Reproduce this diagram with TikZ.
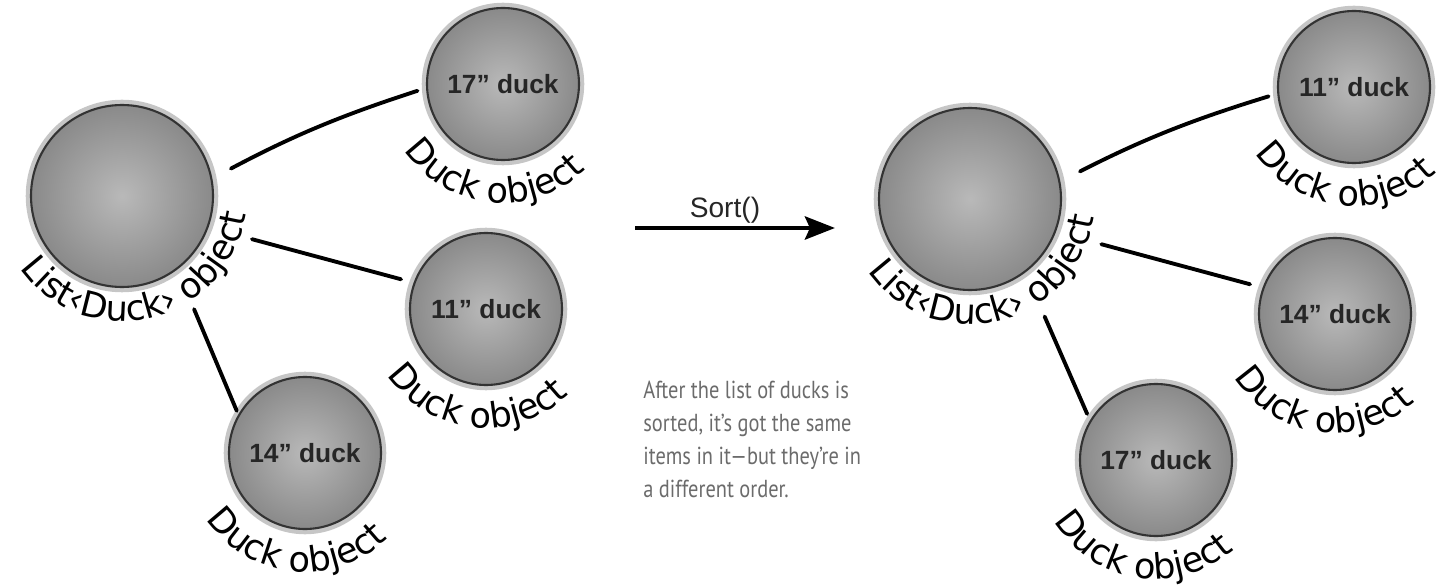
\documentclass[tikz,border=0pt]{standalone}
\usepackage{fontspec}
\usetikzlibrary{arrows.meta,decorations.text}

\newfontfamily\handfont{DejaVu Sans}
\newfontfamily\ballfont{Liberation Sans}
\newfontfamily\notefont[FakeStretch=0.83]{PT Sans}

\tikzset{
  ball/.style={circle, inner sep=0pt, draw=black!80, line width=1.2pt,
    inner color=gray!55, outer color=gray!92,
    preaction={draw=gray!45, line width=6pt},
    font=\ballfont\bfseries\fontsize{15}{18}\selectfont, text=black!85},
  listball/.style={ball, minimum size=3.64cm},
  duckball/.style={ball, minimum size=3.04cm},
  link/.style={line width=2.2pt, line cap=round},
  arclabel/.style={decorate, decoration={text along path, text align=center,
    text={|\handfont\fontsize{20}{24}\selectfont|#1}}},
}

\begin{document}
\begin{tikzpicture}
    \useasboundingbox (0,0) rectangle (28.86,11.74);

    % Unsorted list
    \node[listball] (listL) at (2.44,7.82) {};
    \node[duckball] (d17L) at (10.06,10.06) {17” duck};
    \node[duckball] (d11L) at (9.72,5.56) {11” duck};
    \node[duckball] (d14L) at (6.10,2.68) {14” duck};
    \draw[link, shorten <=0.42cm, shorten >=0.18cm] (listL.11) to[bend left=5] (d17L.183);
    \draw[link, shorten <=0.9cm, shorten >=0.26cm] (listL.-20) -- (d11L.160);
    \draw[link, shorten <=0.86cm, shorten >=0.08cm] (listL.-53) -- (d14L.150);

    % Labels bent round the balls
    \path[arclabel={List‹Duck› object}] ([shift={(200:2.5)}]listL.center) arc[start angle=200, end angle=367, radius=2.5];
    \path[arclabel={Duck object}] ([shift={(200:2.38)}]d17L.center) arc[start angle=200, end angle=328, radius=2.38];
    \path[arclabel={Duck object}] ([shift={(200:2.38)}]d11L.center) arc[start angle=200, end angle=328, radius=2.38];
    \path[arclabel={Duck object}] ([shift={(200:2.38)}]d14L.center) arc[start angle=200, end angle=328, radius=2.38];

    % Sort() call
    \coordinate (sortfrom) at (12.70,7.18);
    \coordinate (sortto) at (16.70,7.18);
    \draw[line width=2.8pt, -{Stealth[length=6mm, width=4.6mm, inset=1mm]}] (sortfrom) -- (sortto)
        node[pos=0.45, above, inner sep=1pt, font=\ballfont\fontsize{16}{19}\selectfont, text=black!85] (sortlbl) {Sort()};

    % Sorted list
    \node[listball] (listR) at (19.40,7.76) {};
    \node[duckball] (d11R) at (27.08,10.00) {11” duck};
    \node[duckball] (d14R) at (26.70,5.46) {14” duck};
    \node[duckball] (d17R) at (23.12,2.54) {17” duck};
    \draw[link, shorten <=0.44cm, shorten >=0.18cm] (listR.11) to[bend left=5] (d11R.185);
    \draw[link, shorten <=0.94cm, shorten >=0.26cm] (listR.-21) -- (d14R.160);
    \draw[link, shorten <=0.96cm, shorten >=0.14cm] (listR.-53) -- (d17R.149);

    \path[arclabel={List‹Duck› object}] ([shift={(200:2.5)}]listR.center) arc[start angle=200, end angle=367, radius=2.5];
    \path[arclabel={Duck object}] ([shift={(200:2.38)}]d11R.center) arc[start angle=200, end angle=328, radius=2.38];
    \path[arclabel={Duck object}] ([shift={(198:2.38)}]d14R.center) arc[start angle=198, end angle=326, radius=2.38];
    \path[arclabel={Duck object}] ([shift={(197:2.38)}]d17R.center) arc[start angle=197, end angle=325, radius=2.38];

    % Handwritten note
    \node[anchor=north west, align=left, inner sep=0pt, text=black!58,
        font=\notefont\fontsize{14}{18.7}\selectfont] (note) at (12.86,4.12)
        {After the list of ducks is\\ sorted, it’s got the same\\ items in it—but they’re in\\ a different order.};
\end{tikzpicture}
\end{document}
